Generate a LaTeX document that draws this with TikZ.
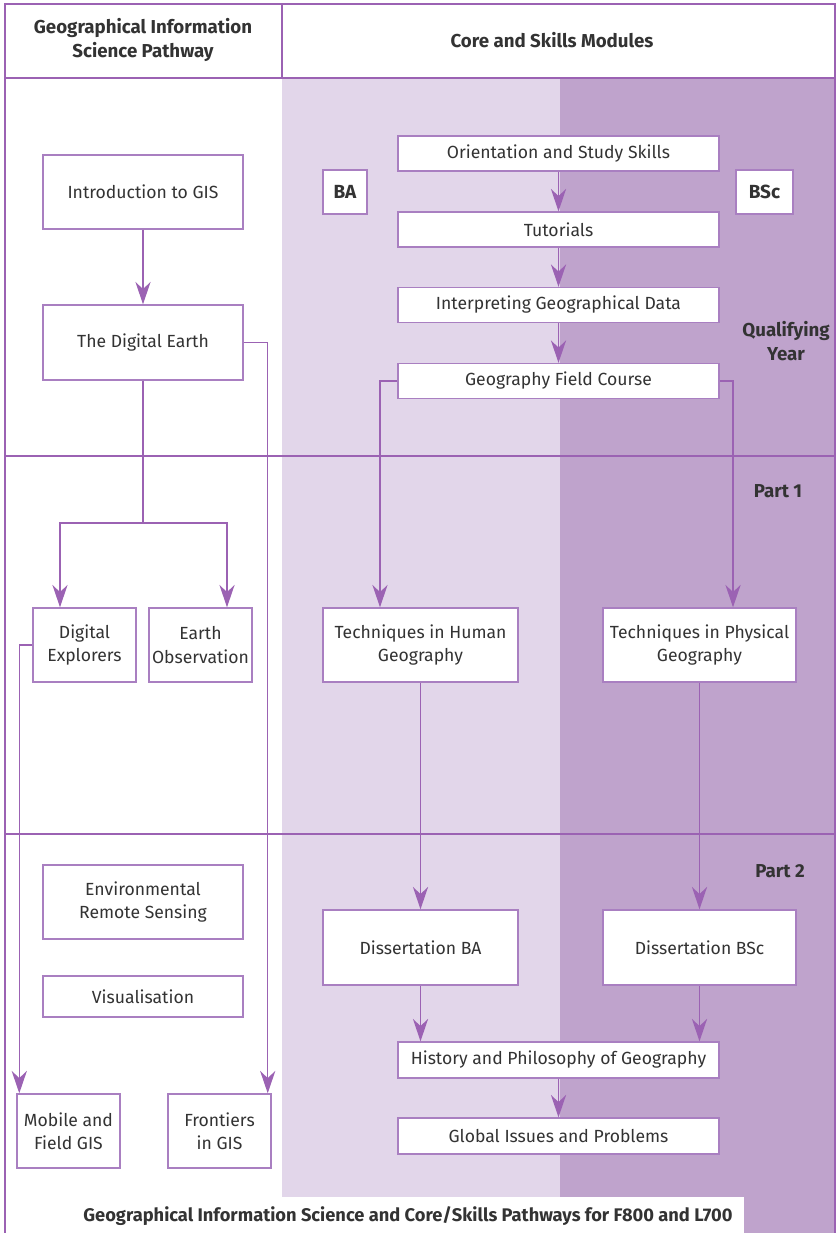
\documentclass[tikz,border=0pt]{standalone}
\usepackage{fontspec}
\setmainfont{Fira Sans}
\usetikzlibrary{arrows.meta}
\definecolor{lineP}{HTML}{9B62B3}
\definecolor{boxP}{HTML}{A97FC1}
\definecolor{lightP}{HTML}{E2D6EA}
\definecolor{darkP}{HTML}{BFA3CC}
\definecolor{txt}{HTML}{333333}
\tikzset{
  modbox/.style={draw=boxP, line width=1pt, fill=white, align=center, text=txt,
    font=\fontsize{12.5}{16.5}\selectfont, inner sep=2pt},
  tagbox/.style={modbox, font=\fontsize{13.5}{16}\selectfont\bfseries},
  head/.style={align=center, text=txt, font=\fontsize{13.3}{17.5}\selectfont\bfseries},
  link/.style={draw=lineP, line width=1pt, -{Stealth[length=0.56cm, width=0.38cm, inset=0.18cm]}},
  plain/.style={draw=lineP, line width=1pt},
}
\begin{document}
\begin{tikzpicture}[x=0.025cm, y=-0.025cm]
            \useasboundingbox (0,0) rectangle (836,1233);
            % columns
            \fill[lightP] (282,78) rectangle (560,1197);
            \fill[darkP] (560,78) rectangle (835,1233);
            % frame
            \draw[plain] (5,1233) -- (5,4) -- (835,4) -- (835,1233);
            \draw[plain] (5,78) -- (835,78);
            \draw[plain] (282,4) -- (282,78);
            \draw[plain] (5,456) -- (835,456);
            \draw[plain] (5,834) -- (835,834);
            \node[head] (hgis) at (143,40) {Geographical Information\\Science Pathway};
            \node[head] (hcore) at (552,40) {Core and Skills Modules};
            \node[head] (qy) at (786,341) {Qualifying\\Year};
            \node[head] (p1) at (778,491) {Part 1};
            \node[head] (p2) at (780,871) {Part 2};
            % GIS pathway
            \node[modbox, minimum width=5cm, minimum height=1.85cm] (intro) at (143,192) {Introduction to GIS};
            \node[modbox, minimum width=5cm, minimum height=1.875cm] (digearth) at (143,342.5) {The Digital Earth};
            \node[modbox, minimum width=2.575cm, minimum height=1.85cm] (digexp) at (84.5,645) {Digital\\Explorers};
            \node[modbox, minimum width=2.575cm, minimum height=1.85cm] (earthobs) at (200.5,645) {Earth\\Observation};
            \node[modbox, minimum width=5cm, minimum height=1.85cm] (envrs) at (143,902) {Environmental\\Remote Sensing};
            \node[modbox, minimum width=5cm, minimum height=1.025cm] (visual) at (143,996.5) {Visualisation};
            \node[modbox, minimum width=2.575cm, minimum height=1.85cm] (mobile) at (68.5,1131) {Mobile and\\Field GIS};
            \node[modbox, minimum width=2.575cm, minimum height=1.85cm] (frontier) at (219.5,1131) {Frontiers\\in GIS};
            % core modules
            \node[modbox, minimum width=8.025cm, minimum height=0.875cm] (orient) at (558.5,153.5) {Orientation and Study Skills};
            \node[modbox, minimum width=8.025cm, minimum height=0.875cm] (tutor) at (558.5,229.5) {Tutorials};
            \node[modbox, minimum width=8.025cm, minimum height=0.875cm] (interp) at (558.5,305) {Interpreting Geographical Data};
            \node[modbox, minimum width=8.025cm, minimum height=0.875cm] (field) at (558.5,381) {Geography Field Course};
            \node[tagbox, minimum width=1.1cm, minimum height=1.1cm] (ba) at (345,192) {BA};
            \node[tagbox, minimum width=1.425cm, minimum height=1.1cm] (bsc) at (764.5,192) {BSc};
            \node[modbox, minimum width=4.875cm, minimum height=1.85cm] (techhum) at (420.5,645) {Techniques in Human\\Geography};
            \node[modbox, minimum width=4.825cm, minimum height=1.85cm] (techphys) at (699.5,645) {Techniques in Physical\\Geography};
            \node[modbox, minimum width=4.875cm, minimum height=1.875cm] (dissba) at (420.5,947.5) {Dissertation BA};
            \node[modbox, minimum width=4.825cm, minimum height=1.875cm] (dissbsc) at (699.5,947.5) {Dissertation BSc};
            \node[modbox, minimum width=8.025cm, minimum height=0.9cm] (history) at (558.5,1060) {History and Philosophy of Geography};
            \node[modbox, minimum width=8.025cm, minimum height=0.9cm] (global) at (558.5,1136) {Global Issues and Problems};
            % caption
            \fill[white] (6,1197) rectangle (744,1233);
            \node[head, font=\fontsize{13}{16}\selectfont\bfseries] (caption) at (408,1216) {Geographical Information Science and Core/Skills Pathways for F800 and L700};
            % connectors
            \coordinate (split) at (143,523);
            \coordinate (humin) at ([xshift=-1.0125cm]techhum.north);
            \coordinate (physin) at ([xshift=0.8375cm]techphys.north);
            \draw[link] (intro) -- (digearth);
            \draw[plain] (digearth.south) -- (split);
            \draw[link] (split) -| ([xshift=-0.6125cm]digexp.north);
            \draw[link] (split) -| ([xshift=0.6625cm]earthobs.north);
            \draw[link] (digearth.east) -| ([xshift=-0.1cm]frontier.north east);
            \draw[link] (digexp.west) -| ([xshift=0.075cm]mobile.north west);
            \draw[link] (orient) -- (tutor);
            \draw[link] (tutor) -- (interp);
            \draw[link] (interp) -- (field);
            \draw[link] (field.west) -| (humin);
            \draw[link] (field.east) -| (physin);
            \draw[link] (techhum) -- (dissba);
            \draw[link] (techphys) -- (dissbsc);
            \draw[link] (dissba.south) -- (dissba.south |- history.north);
            \draw[link] (dissbsc.south) -- (dissbsc.south |- history.north);
            \draw[link] (history) -- (global);
        \end{tikzpicture}
\end{document}
